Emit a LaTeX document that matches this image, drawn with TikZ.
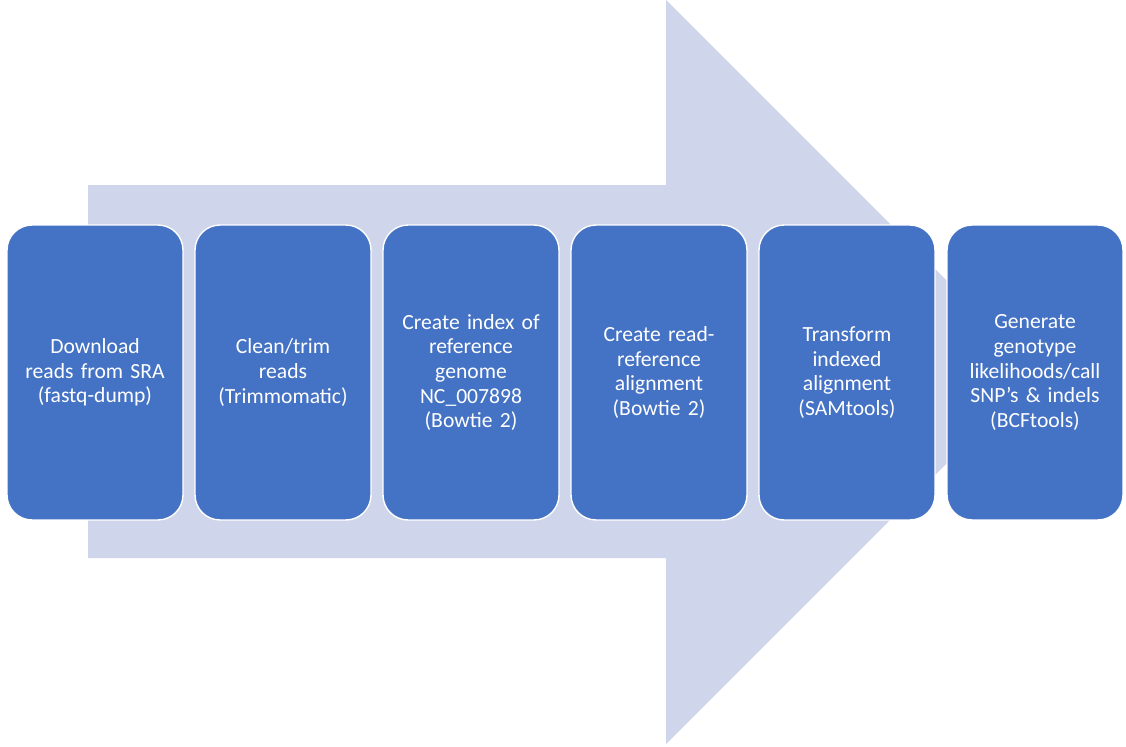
\documentclass[tikz,border=0pt]{standalone}
\usepackage{fontspec}
\setmainfont{Carlito}
\usepackage{tikz}
\usetikzlibrary{positioning}
\definecolor{arrowfill}{HTML}{CFD5EA}
\definecolor{boxblue}{HTML}{4472C4}
\tikzset{stepbox/.style={fill=boxblue, draw=white, line width=.8pt, rounded corners=.5cm,
  minimum width=3.52cm, minimum height=5.9cm, text width=3.4cm, inner xsep=1pt, align=center,
  text=white, font=\fontsize{12.3}{14}\selectfont}}

\begin{document}
\begin{tikzpicture}[x=.02cm,y=-.02cm]
\useasboundingbox (0,0) rectangle (1126,747);
% big background arrow
\fill[arrowfill] (88,185)--(666,185)--(666,0)--(1038,372)--(666,744)--(666,558)--(88,558)--cycle;
% pipeline steps
\node[stepbox] (sra) at (95,372.5) {Download\\ reads from SRA\\ (fastq-dump)};
\node[stepbox] (trim) at (283,372.5) {Clean/trim\\ reads\\ (Trimmomatic)};
\node[stepbox] (index) at (471,372.5) {Create index of\\ reference\\ genome\\ NC\_007898\\ (Bowtie 2)};
\node[stepbox] (align) at (659,372.5) {Create read-\\ reference\\ alignment\\ (Bowtie 2)};
\node[stepbox] (sam) at (847,372.5) {Transform\\ indexed\\ alignment\\ (SAMtools)};
\node[stepbox] (bcf) at (1035,372.5) {Generate\\ genotype\\ likelihoods/call\\ SNP’s \& indels\\ (BCFtools)};
\end{tikzpicture}
\end{document}
